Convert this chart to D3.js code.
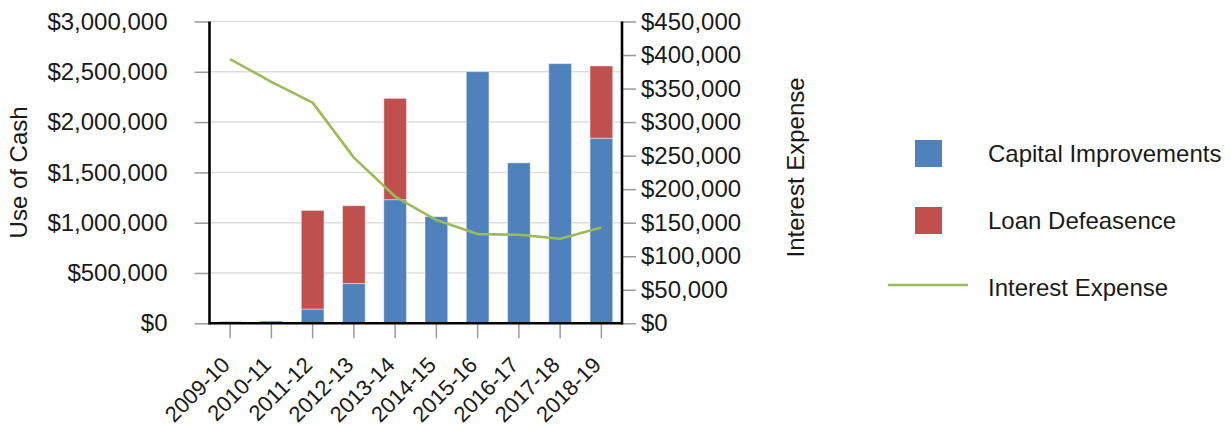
<!DOCTYPE html>
<html>
<head>
<meta charset="utf-8">
<script src="https://cdn.jsdelivr.net/npm/d3@7"></script>
<style>
  html, body { margin: 0; padding: 0; background: #fff; }
  svg { display: block; font-family: "Liberation Sans", Arial, sans-serif; }
</style>
</head>
<body>
<svg id="chart" width="1231" height="426"></svg>
<script>
// Fiscal years on the x axis
const years = ["2009-10", "2010-11", "2011-12", "2012-13", "2013-14",
               "2014-15", "2015-16", "2016-17", "2017-18", "2018-19"];
// Stacked bar series (left axis, dollars)
const capitalImprovements = [18000, 22000, 142000, 395000, 1229000,
                             1060000, 2502000, 1595000, 2581000, 1840000];
const loanDefeasence = [0, 0, 980000, 774000, 1007000,
                        0, 0, 0, 0, 718000];
// Line series (right axis, dollars)
const interestExpense = [394000, 360000, 329000, 247000, 189000,
                         154000, 133000, 132000, 126000, 143000];
// Tick values for both axes
const leftTicks = [0, 500000, 1000000, 1500000, 2000000, 2500000, 3000000];
const rightTicks = [0, 50000, 100000, 150000, 200000, 250000, 300000, 350000, 400000, 450000];

const colors = { cap: "#4f81bd", loan: "#c0504d", interest: "#9bbb59" };
const textColor = "#1a1a1a";
const fontSize = "24px";
const yearFontSize = "22px";

const svg = d3.select("#chart");
const plot = { left: 209.5, top: 21.5, right: 622, bottom: 323.3 };

const x = d3.scaleBand().domain(years).range([plot.left, plot.right]).paddingInner(0.45).paddingOuter(0.225);
const yL = d3.scaleLinear().domain([0, 3000000]).range([plot.bottom, plot.top]);
const yR = d3.scaleLinear().domain([0, 450000]).range([plot.bottom, plot.top]);
const fmt = d3.format("$,");

// Horizontal gridlines
svg.append("g").selectAll("line").data(leftTicks.slice(1)).join("line")
  .attr("x1", plot.left).attr("x2", plot.right)
  .attr("y1", d => yL(d)).attr("y2", d => yL(d))
  .attr("stroke", "#dddddd").attr("stroke-width", 1.5);

// Stacked bars
const rows = years.map((yr, i) => ({ year: yr, cap: capitalImprovements[i], loan: loanDefeasence[i] }));
const stack = d3.stack().keys(["cap", "loan"])(rows);
svg.append("g").selectAll("g").data(stack).join("g")
  .attr("fill", d => colors[d.key])
  .selectAll("rect").data(d => d.filter(s => s[1] - s[0] > 0)).join("rect")
  .attr("x", d => x(d.data.year))
  .attr("width", x.bandwidth())
  .attr("y", d => yL(d[1]))
  .attr("height", d => yL(d[0]) - yL(d[1]))
  .attr("stroke", "rgba(255,255,255,0.45)").attr("stroke-width", 1);

// Interest expense line
const line = d3.line()
  .x((d, i) => x(years[i]) + x.bandwidth() / 2)
  .y(d => yR(d));
svg.append("path").datum(interestExpense)
  .attr("d", line).attr("fill", "none")
  .attr("stroke", colors.interest).attr("stroke-width", 2.6)
  .attr("stroke-linejoin", "round");

// Left axis
const leftAxis = svg.append("g").attr("transform", `translate(${plot.left},0)`)
  .call(d3.axisLeft(yL).tickValues(leftTicks).tickFormat(fmt).tickSize(15).tickPadding(27));
// Right axis
const rightAxis = svg.append("g").attr("transform", `translate(${plot.right},0)`)
  .call(d3.axisRight(yR).tickValues(rightTicks).tickFormat(fmt).tickSize(14).tickPadding(5));
// Bottom axis
const bottomAxis = svg.append("g").attr("transform", `translate(0,${plot.bottom})`)
  .call(d3.axisBottom(x).tickSize(15).tickFormat(""));

[leftAxis, rightAxis, bottomAxis].forEach(g => {
  g.select(".domain").remove();
  g.selectAll(".tick line").attr("stroke", "#9a9a9a").attr("stroke-width", 1.5);
  g.selectAll(".tick text").attr("fill", textColor).style("font-size", fontSize)
    .style("font-family", "'Liberation Sans', Arial, sans-serif");
});

// Rotated year labels
svg.append("g").selectAll("text").data(years).join("text")
  .attr("transform", d => `translate(${x(d) + x.bandwidth() / 2 + 1},${plot.bottom + 43}) rotate(-45)`)
  .attr("text-anchor", "end")
  .attr("fill", textColor).style("font-size", yearFontSize)
  .text(d => d);

// Axis lines
const axisPath = svg.append("g").attr("stroke", "#000").attr("stroke-width", 2.6).attr("fill", "none");
axisPath.append("line").attr("x1", plot.left).attr("x2", plot.left).attr("y1", plot.top).attr("y2", plot.bottom + 1.3);
axisPath.append("line").attr("x1", plot.right).attr("x2", plot.right).attr("y1", plot.top).attr("y2", plot.bottom + 1.3);
axisPath.append("line").attr("x1", plot.left).attr("x2", plot.right).attr("y1", plot.bottom).attr("y2", plot.bottom);

// Axis titles
svg.append("text").attr("transform", `translate(19,${(plot.top + plot.bottom) / 2}) rotate(-90)`)
  .attr("text-anchor", "middle").attr("dy", "0.35em")
  .attr("fill", textColor).style("font-size", fontSize).text("Use of Cash");
svg.append("text").attr("transform", `translate(796,${(plot.top + plot.bottom) / 2 - 5}) rotate(-90)`)
  .attr("text-anchor", "middle").attr("dy", "0.35em")
  .attr("fill", textColor).style("font-size", fontSize).text("Interest Expense");

// Legend
const legendItems = [
  { label: "Capital Improvements", type: "box", color: colors.cap, y: 153.5 },
  { label: "Loan Defeasence", type: "box", color: colors.loan, y: 220.5 },
  { label: "Interest Expense", type: "line", color: colors.interest, y: 287.5 }
];
const legend = svg.append("g");
legendItems.forEach(item => {
  if (item.type === "box") {
    legend.append("rect").attr("x", 915).attr("y", item.y - 13.5)
      .attr("width", 27).attr("height", 27).attr("fill", item.color);
  } else {
    legend.append("line").attr("x1", 888).attr("x2", 968)
      .attr("y1", item.y - 2.5).attr("y2", item.y - 2.5)
      .attr("stroke", item.color).attr("stroke-width", 2.6);
  }
  legend.append("text").attr("x", 988).attr("y", item.y).attr("dy", "0.35em")
    .attr("fill", textColor).style("font-size", fontSize).text(item.label);
});
</script>
</body>
</html>
